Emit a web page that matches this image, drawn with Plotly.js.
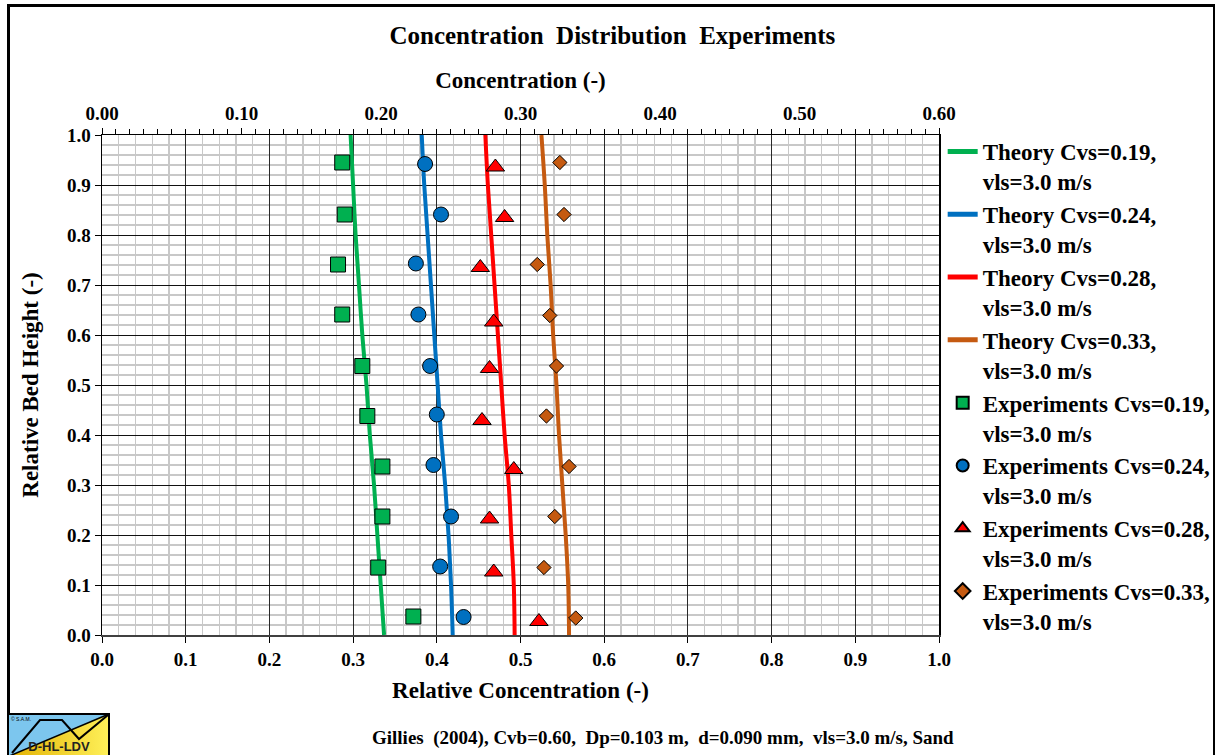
<!DOCTYPE html>
<html>
<head>
<meta charset="utf-8">
<script src="https://cdn.plot.ly/plotly-3.0.1.min.js"></script>
<style>
  html, body { margin: 0; padding: 0; background: #ffffff; }
  #wrap { position: relative; width: 1215px; height: 755px; overflow: hidden; }
  #chart { position: absolute; left: 0; top: 0; width: 1215px; height: 755px; }
  #frame { position: absolute; left: 7px; top: 4px; width: 1203px; height: 800px;
           border-left: 3px solid #000; border-top: 3px solid #000; border-right: 2px solid #000;
           pointer-events: none; }
  #logo { position: absolute; left: 7px; top: 713px; width: 103px; height: 42px; pointer-events: none; }
</style>
</head>
<body>
<div id="wrap">
  <div id="chart"></div>
  <div id="frame"></div>
  <svg id="logo" width="103" height="42" viewBox="0 0 103 42" xmlns="http://www.w3.org/2000/svg">
    <defs>
      <linearGradient id="gy" x1="0" y1="0" x2="1" y2="0">
        <stop offset="0" stop-color="#E2B000"/>
        <stop offset="1" stop-color="#FFF15A"/>
      </linearGradient>
    </defs>
    <rect x="0" y="0" width="103" height="42" fill="#7CC6EE"/>
    <polygon points="0,44 102,1 103,44" fill="url(#gy)"/>
    <line x1="0" y1="44" x2="102" y2="1" stroke="#000" stroke-width="1.5"/>
    <polyline points="5,40 33,7 55,7 72,26 101,2" fill="none" stroke="#000" stroke-width="2"/>
    <rect x="1" y="1" width="101" height="44" fill="none" stroke="#000" stroke-width="2"/>
    <text x="4" y="8" font-family="Liberation Sans, Arial, sans-serif" font-size="5" fill="#000">© S.A.M.</text>
    <text x="52" y="38" text-anchor="middle" font-family="Liberation Sans, Arial, sans-serif" font-size="13" font-weight="bold" fill="#222">D-HL-LDV</text>
  </svg>
</div>
<script>
// ---------------- data ----------------
const theoryHeight = [1.0, 0.9, 0.8, 0.7, 0.6, 0.5, 0.4, 0.3, 0.2, 0.1, 0.0];
const theory019 = [0.297, 0.300, 0.303, 0.307, 0.311, 0.316, 0.320, 0.325, 0.329, 0.333, 0.337];
const theory024 = [0.382, 0.385, 0.389, 0.393, 0.397, 0.401, 0.405, 0.410, 0.414, 0.417, 0.419];
const theory028 = [0.458, 0.461, 0.465, 0.469, 0.473, 0.477, 0.481, 0.486, 0.489, 0.492, 0.493];
const theory033 = [0.525, 0.529, 0.532, 0.536, 0.539, 0.543, 0.546, 0.550, 0.554, 0.557, 0.558];

const expHeight019 = [0.945, 0.841, 0.741, 0.641, 0.538, 0.438, 0.337, 0.237, 0.135, 0.037];
const exp019 = [0.287, 0.290, 0.282, 0.287, 0.311, 0.317, 0.335, 0.335, 0.330, 0.372];
const expHeight024 = [0.942, 0.841, 0.743, 0.641, 0.538, 0.441, 0.340, 0.237, 0.137, 0.036];
const exp024 = [0.386, 0.405, 0.375, 0.378, 0.392, 0.400, 0.396, 0.417, 0.404, 0.432];
const expHeight028 = [0.936, 0.835, 0.735, 0.626, 0.533, 0.429, 0.331, 0.232, 0.126, 0.027];
const exp028 = [0.470, 0.481, 0.452, 0.468, 0.463, 0.454, 0.492, 0.463, 0.468, 0.522];
const expHeight033 = [0.945, 0.841, 0.741, 0.639, 0.538, 0.438, 0.337, 0.237, 0.135, 0.034];
const exp033 = [0.547, 0.552, 0.520, 0.535, 0.543, 0.531, 0.558, 0.541, 0.528, 0.566];

const topAxisRange = [0, 0.6];   // absolute concentration axis (top)

const theoryNames = ['Theory Cvs=0.19,<br>vls=3.0 m/s', 'Theory Cvs=0.24,<br>vls=3.0 m/s',
                     'Theory Cvs=0.28,<br>vls=3.0 m/s', 'Theory Cvs=0.33,<br>vls=3.0 m/s'];
const expNames = ['Experiments Cvs=0.19,<br>vls=3.0 m/s', 'Experiments Cvs=0.24,<br>vls=3.0 m/s',
                  'Experiments Cvs=0.28,<br>vls=3.0 m/s', 'Experiments Cvs=0.33,<br>vls=3.0 m/s'];

const chartTitle = 'Concentration\u00a0 Distribution\u00a0 Experiments';
const topAxisTitle = 'Concentration (-)';
const bottomAxisTitle = 'Relative Concentration (-)';
const leftAxisTitle = 'Relative Bed Height (-)';
const footerText = 'Gillies\u00a0 (2004), Cvb=0.60,\u00a0 Dp=0.103 m,\u00a0 d=0.090 mm,\u00a0 vls=3.0 m/s, Sand';

// ---------------- styling ----------------
const colors = ['#00B050', '#0070C0', '#FF0000', '#C55A11'];
const symbols = ['square', 'circle', 'triangle-up', 'diamond'];
const symSizes = [15, 15, 16, 11];
const FONT = 'Liberation Serif, Times New Roman, serif';
const BOLD = { family: FONT, color: '#000', weight: 'bold' };

const theoryX = [theory019, theory024, theory028, theory033];
const expX = [exp019, exp024, exp028, exp033];
const expY = [expHeight019, expHeight024, expHeight028, expHeight033];

const traces = [];
for (let i = 0; i < 4; i++) {
  traces.push({
    type: 'scatter', mode: 'lines', name: theoryNames[i],
    x: theoryX[i], y: theoryHeight, xaxis: 'x', yaxis: 'y',
    line: { color: colors[i], width: 4, shape: 'spline' },
    hoverinfo: 'x+y'
  });
}
for (let i = 0; i < 4; i++) {
  traces.push({
    type: 'scatter', mode: 'markers', name: expNames[i],
    x: expX[i], y: expY[i], xaxis: 'x', yaxis: 'y',
    marker: { symbol: symbols[i], size: symSizes[i], color: colors[i], line: { color: '#000', width: 1 } },
    hoverinfo: 'x+y'
  });
}
// empty trace only to register the top (absolute concentration) axis
traces.push({ type: 'scatter', mode: 'markers', x: [], y: [], xaxis: 'x2', yaxis: 'y',
              showlegend: false, hoverinfo: 'skip' });

const layout = {
  width: 1215, height: 755,
  paper_bgcolor: '#ffffff', plot_bgcolor: '#ffffff',
  margin: { l: 101.5, r: 275.7, t: 135, b: 120, autoexpand: false },
  font: { family: FONT, color: '#000', size: 19 },
  showlegend: true,
  title: {
    text: chartTitle,
    font: Object.assign({ size: 25 }, BOLD),
    xref: 'container', yref: 'container', x: 0.504, xanchor: 'center', y: 0.953, yanchor: 'middle'
  },
  xaxis: {
    range: [0, 1], dtick: 0.1, tick0: 0, tickformat: '.1f',
    showgrid: true, gridcolor: '#2a2a2a', gridwidth: 1,
    minor: { dtick: 0.02, showgrid: true, gridcolor: '#c8c8c8', gridwidth: 1.3 },
    zeroline: false, showline: true, linecolor: '#404040', linewidth: 2,
    ticks: 'outside', ticklen: 6, tickcolor: '#000', tickwidth: 1,
    tickfont: Object.assign({ size: 19 }, BOLD),
    title: { text: bottomAxisTitle, font: Object.assign({ size: 23 }, BOLD), standoff: 13 },
    automargin: false, fixedrange: true
  },
  xaxis2: {
    overlaying: 'x', anchor: 'y', side: 'top',
    range: topAxisRange, dtick: 0.1, tick0: 0, tickformat: '.2f',
    showgrid: false, zeroline: false, showline: true, linecolor: '#000', linewidth: 1.5,
    ticks: 'outside', ticklen: 6, tickcolor: '#000', tickwidth: 1,
    minor: { dtick: 0.01, ticks: 'outside', ticklen: 5, tickcolor: '#000', tickwidth: 1, showgrid: false },
    tickfont: Object.assign({ size: 19 }, BOLD),
    title: { text: topAxisTitle, font: Object.assign({ size: 23 }, BOLD), standoff: 8 },
    automargin: false, fixedrange: true
  },
  yaxis: {
    range: [0, 1], dtick: 0.1, tick0: 0, tickformat: '.1f',
    showgrid: true, gridcolor: '#111', gridwidth: 1,
    minor: { dtick: 0.02, showgrid: true, gridcolor: '#c8c8c8', gridwidth: 1.3 },
    zeroline: false, showline: true, linecolor: '#000', linewidth: 1.5, mirror: true,
    ticks: 'outside', ticklen: 6, tickcolor: '#000', tickwidth: 1,
    tickfont: Object.assign({ size: 19 }, BOLD),
    title: { text: leftAxisTitle, font: Object.assign({ size: 23 }, BOLD), standoff: 22 },
    automargin: false, fixedrange: true
  },
  legend: {
    x: 1.0044, xanchor: 'left', y: 1.01, yanchor: 'top', maxheight: 700,
    bgcolor: 'rgba(0,0,0,0)', borderwidth: 0,
    font: Object.assign({ size: 23 }, BOLD),
    valign: 'top', itemsizing: 'constant', tracegroupgap: 0, traceorder: 'normal'
  },
  annotations: [{
    text: footerText, xref: 'paper', yref: 'paper',
    x: 0.670, xanchor: 'center', y: -0.206, yanchor: 'middle', showarrow: false,
    font: Object.assign({ size: 19 }, BOLD)
  }]
};

Plotly.newPlot('chart', traces, layout, { displayModeBar: false, staticPlot: true });
</script>
</body>
</html>
